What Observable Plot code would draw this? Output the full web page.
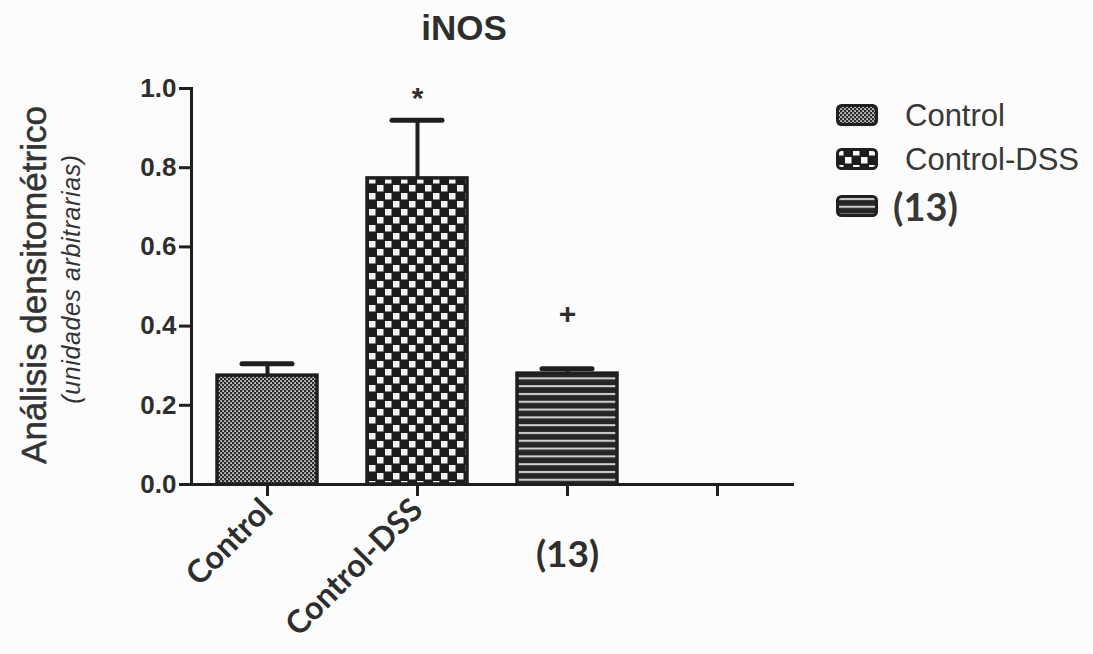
<!DOCTYPE html>
<html><head><meta charset="utf-8">
<script src="https://cdn.jsdelivr.net/npm/d3@7"></script>
<script src="https://cdn.jsdelivr.net/npm/@observablehq/plot@0.6"></script>
<style>
html,body{margin:0;padding:0;background:#fcfcfc;}
#wrap{position:relative;width:1093px;height:654px;overflow:hidden;font-family:"Liberation Sans",Arial,sans-serif;color:#333;}
#wrap svg.plot{position:absolute;left:0;top:0;}
.abs{position:absolute;white-space:nowrap;line-height:1;}
#title{left:464px;top:10px;transform:translateX(-50%);font-size:35px;font-weight:bold;color:#2e2e2e;}
.ytitle{transform:translate(-50%,-50%) rotate(-90deg);}
#yt1{left:33px;top:285px;font-size:35px;color:#333;-webkit-text-stroke:0.5px #333;}
#yt2{left:71px;top:279px;font-size:25px;font-style:italic;color:#333;letter-spacing:0.6px;}
.leg{position:absolute;left:836px;display:flex;align-items:center;}
.leg svg{display:block;}
.leg span{position:absolute;white-space:nowrap;line-height:1;}
</style></head><body><div id="wrap"></div>
<script>
// ---- data ----
const categories = ["Control", "Control-DSS", "(13)", " "];
const values = [0.275, 0.773, 0.28];
const errors = [0.03, 0.147, 0.012];
const markLabels = ["", "*", "+"];
const markValues = [null, 0.975, 0.43];
const yTicks = [0, 0.2, 0.4, 0.6, 0.8, 1.0];
const rotatedLabels = ["Control", "Control-DSS"];
const plainLabels = ["(13)"];
const legendLabels = ["Control", "Control-DSS", "(13)"];
const titleText = "iNOS";
const yTitle1 = "Análisis densitométrico";
const yTitle2 = "(unidades arbitrarias)";

const patternIds = ["pCtrl", "pDSS", "p13"];
const data = values.map((v, i) => ({cat: categories[i], value: v, err: errors[i], mark: markLabels[i], markY: markValues[i]}));
const ink = "#1f1f1f";

const plot = Plot.plot({
  width: 1093, height: 654,
  marginLeft: 191, marginRight: 301, marginTop: 88, marginBottom: 170,
  style: {background: "transparent", fontFamily: "Liberation Sans, Arial, sans-serif", color: "#2e2e2e", overflow: "visible"},
  x: {domain: categories, paddingInner: 1/3, paddingOuter: 0.17, label: null, axis: null},
  y: {domain: [0, 1], label: null, axis: null},
  color: {type: "ordinal", domain: categories.slice(0, 3), range: patternIds.map(id => `url(#${id})`)},
  marks: [
    Plot.barY(data, {x: "cat", y: "value", fill: "cat", stroke: ink, strokeWidth: 3.5}),
    Plot.ruleX(data, {x: "cat", y1: "value", y2: d => d.value + d.err, stroke: ink, strokeWidth: 4}),
    Plot.tickY(data, {x: "cat", y: d => d.value + d.err, insetLeft: 25, insetRight: 25, stroke: ink, strokeWidth: 5, strokeLinecap: "round"}),
    Plot.text(data.filter(d => d.mark), {x: "cat", y: "markY", text: "mark", fontSize: 30, fontWeight: "bold", fill: "#2e2e2e"}),
    Plot.axisY({ticks: yTicks, tickFormat: d3.format(".1f"), tickSize: 12, tickPadding: 3, fontSize: 26, fontWeight: "bold", strokeWidth: 3, stroke: ink, label: null}),
    Plot.axisX({ticks: categories, tickSize: 12, tickFormat: () => "", strokeWidth: 3, stroke: ink, label: null}),
    Plot.axisX({ticks: rotatedLabels, tickSize: 0, tickRotate: -45, tickPadding: 20, fontSize: 32, fontWeight: "bold", fontFamily: "Lato", fill: "#2e2e2e", label: null}),
    Plot.text(plainLabels, {x: d => d, frameAnchor: "bottom", dy: 82, fontSize: 37, fontWeight: "bold", fontFamily: "Lato", fill: "#2e2e2e"}),
    Plot.frame({anchor: "left", stroke: ink, strokeWidth: 3}),
    Plot.frame({anchor: "bottom", stroke: ink, strokeWidth: 3})
  ]
});
plot.classList.add("plot");

// pattern fills
const defs = d3.select(plot).insert("defs", ":first-child");
const p1 = defs.append("pattern").attr("id", "pCtrl").attr("patternUnits", "userSpaceOnUse").attr("width", 4).attr("height", 4);
p1.append("rect").attr("width", 4).attr("height", 4).attr("fill", "#2a2a2a");
p1.append("rect").attr("x", 0.3).attr("y", 0.3).attr("width", 1.6).attr("height", 1.6).attr("fill", "#f2f2f2");
p1.append("rect").attr("x", 2.3).attr("y", 2.3).attr("width", 1.6).attr("height", 1.6).attr("fill", "#f2f2f2");
const p2 = defs.append("pattern").attr("id", "pDSS").attr("patternUnits", "userSpaceOnUse").attr("width", 16).attr("height", 16);
p2.append("rect").attr("width", 16).attr("height", 16).attr("fill", "#1c1c1c");
p2.append("rect").attr("x", 1).attr("y", 1).attr("width", 6.5).attr("height", 6.5).attr("fill", "#f4f4f4");
p2.append("rect").attr("x", 9).attr("y", 9).attr("width", 6.5).attr("height", 6.5).attr("fill", "#f4f4f4");
const p3 = defs.append("pattern").attr("id", "p13").attr("patternUnits", "userSpaceOnUse").attr("width", 8).attr("height", 7.8);
p3.append("rect").attr("width", 8).attr("height", 7.8).attr("fill", "#262626");
p3.append("rect").attr("y", 3).attr("width", 8).attr("height", 2).attr("fill", "#d4d4d4");

const wrap = document.getElementById("wrap");
wrap.appendChild(plot);

function addDiv(id, cls, text) {
  const d = document.createElement("div");
  d.id = id; d.className = cls; d.textContent = text;
  wrap.appendChild(d);
}
addDiv("title", "abs", titleText);
addDiv("yt1", "abs ytitle", yTitle1);
addDiv("yt2", "abs ytitle", yTitle2);

// legend
const legY = [115, 159, 206];
const legFont = [
  {size: 31, weight: "normal", family: "Liberation Sans, Arial, sans-serif", dx: 69},
  {size: 31, weight: "normal", family: "Liberation Sans, Arial, sans-serif", dx: 69},
  {size: 38, weight: "bold", family: "Lato, sans-serif", dx: 57}
];
legendLabels.forEach((lab, i) => {
  const row = document.createElement("div");
  row.className = "leg";
  row.style.top = (legY[i] - 11) + "px";
  const sw = d3.create("svg").attr("width", 42).attr("height", 22);
  sw.append("rect").attr("x", 1.5).attr("y", 1.5).attr("width", 39).attr("height", 19).attr("rx", 4)
    .attr("fill", `url(#${patternIds[i]})`).attr("stroke", ink).attr("stroke-width", 3);
  row.appendChild(sw.node());
  const sp = document.createElement("span");
  sp.textContent = lab;
  sp.style.left = legFont[i].dx + "px";
  sp.style.top = "50%";
  sp.style.transform = "translateY(-50%)";
  sp.style.fontSize = legFont[i].size + "px";
  sp.style.fontWeight = legFont[i].weight;
  sp.style.fontFamily = legFont[i].family;
  sp.style.color = "#383838";
  row.appendChild(sp);
  wrap.appendChild(row);
});
</script>
</body></html>
